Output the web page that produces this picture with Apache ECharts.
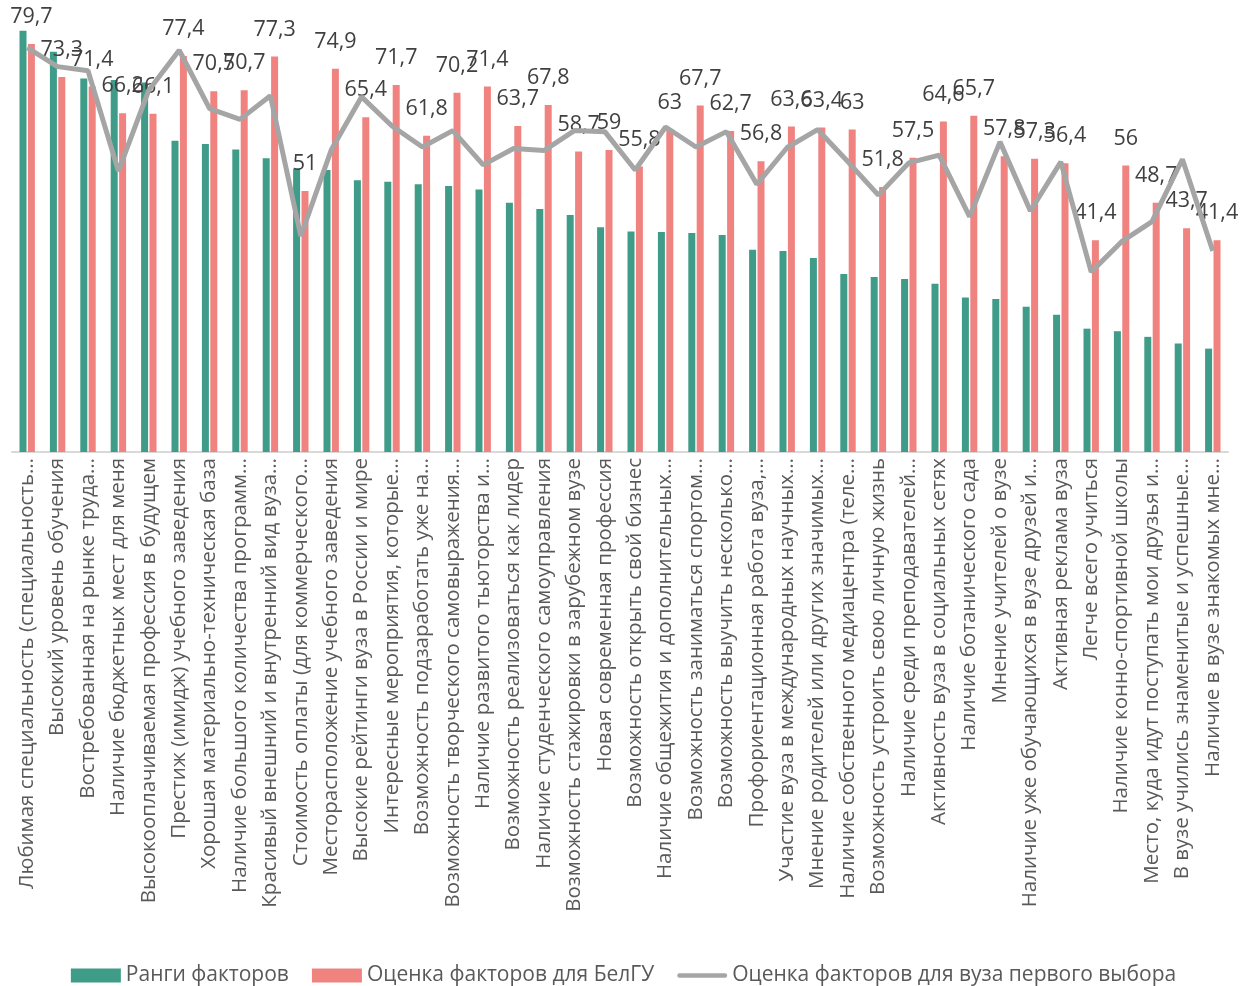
<!DOCTYPE html>
<html>
<head>
<meta charset="utf-8">
<script src="https://cdn.jsdelivr.net/npm/echarts@6/dist/echarts.min.js"></script>
<style>
html,body{margin:0;padding:0;background:#fff;}
#chart{width:1247px;height:986px;}
</style>
</head>
<body>
<div id="chart"></div>
<script>
const categories = [
  "Любимая специальность (специальность…",
  "Высокий уровень обучения",
  "Востребованная на рынке труда…",
  "Наличие бюджетных мест для меня",
  "Высокооплачиваемая профессия в будущем",
  "Престиж (имидж) учебного заведения",
  "Хорошая материально-техническая база",
  "Наличие большого количества программ…",
  "Красивый внешний и внутренний вид вуза…",
  "Стоимость оплаты (для коммерческого…",
  "Месторасположение учебного заведения",
  "Высокие рейтинги вуза в России и мире",
  "Интересные мероприятия, которые…",
  "Возможность подзаработать уже на…",
  "Возможность творческого самовыражения…",
  "Наличие развитого тьюторства и…",
  "Возможность реализоваться как лидер",
  "Наличие студенческого самоуправления",
  "Возможность стажировки в зарубежном вузе",
  "Новая современная профессия",
  "Возможность открыть свой бизнес",
  "Наличие общежития и дополнительных…",
  "Возможность заниматься спортом…",
  "Возможность выучить несколько…",
  "Профориентационная работа вуза,…",
  "Участие вуза в международных научных…",
  "Мнение родителей или других значимых…",
  "Наличие собственного медиацентра (теле…",
  "Возможность устроить свою личную жизнь",
  "Наличие среди преподавателей…",
  "Активность вуза в социальных сетях",
  "Наличие ботанического сада",
  "Мнение учителей о вузе",
  "Наличие уже обучающихся в вузе друзей и…",
  "Активная реклама вуза",
  "Легче всего учиться",
  "Наличие конно-спортивной школы",
  "Место, куда идут поступать мои друзья и…",
  "В вузе учились знаменитые и успешные…",
  "Наличие в вузе знакомых мне…"
];

const rankValues = [
  82.3, 78.2, 73.0, 72.7, 72.2, 60.8, 60.2, 59.1, 57.4, 55.4,
  55.1, 53.1, 52.8, 52.3, 52.0, 51.3, 48.7, 47.5, 46.3, 43.9,
  43.1, 43.0, 42.8, 42.4, 39.5, 39.3, 37.9, 34.8, 34.2, 33.8,
  32.9, 30.2, 29.9, 28.4, 26.8, 24.1, 23.6, 22.5, 21.2, 20.2
];

const belguValues = [
  79.7, 73.3, 71.4, 66.2, 66.1, 77.4, 70.5, 70.7, 77.3, 51,
  74.9, 65.4, 71.7, 61.8, 70.2, 71.4, 63.7, 67.8, 58.7, 59,
  55.8, 63, 67.7, 62.7, 56.8, 63.6, 63.4, 63, 51.8, 57.5,
  64.6, 65.7, 57.8, 57.3, 56.4, 41.4, 56, 48.7, 43.7, 41.4
];

const firstChoiceValues = [
  79.0, 75.3, 74.5, 54.9, 70.7, 78.5, 67.1, 65.0, 69.6, 42.2,
  59.0, 69.4, 63.7, 59.6, 62.8, 56.1, 59.3, 58.9, 62.8, 62.6,
  55.1, 63.5, 59.6, 62.6, 52.3, 59.5, 63.0, 56.7, 50.2, 56.5,
  58.0, 46.0, 60.6, 47.1, 56.7, 35.2, 41.1, 45.0, 57.2, 39.3
];

const seriesNames = ["Ранги факторов", "Оценка факторов для БелГУ", "Оценка факторов для вуза первого выбора"];

const FONT = "'Open Sans', 'Noto Sans', sans-serif";
const lineIcon = 'path://M0,0 L0.01,0 M2.5,4.5 L52.5,4.5 A2.5,2.5 0 0 1 52.5,9.5 L2.5,9.5 A2.5,2.5 0 0 1 2.5,4.5 Z M55,14 L55.01,14';
const chart = echarts.init(document.getElementById('chart'), null, {renderer: 'canvas'});
chart.setOption({
  animation: false,
  textStyle: {fontFamily: FONT},
  grid: {left: 12, right: 19, top: 17, bottom: 534, containLabel: false},
  legend: {
    top: 960,
    left: 'center',
    itemWidth: 50,
    itemHeight: 14,
    itemGap: 23,
    textStyle: {fontFamily: FONT, fontSize: 21, color: '#595959'},
    data: [
      {name: seriesNames[0], icon: 'rect'},
      {name: seriesNames[1], icon: 'rect'},
      {name: seriesNames[2], icon: lineIcon}
    ]
  },
  xAxis: {
    type: 'category',
    data: categories,
    axisLine: {lineStyle: {color: '#D9D9D9', width: 2}},
    axisTick: {show: false},
    axisLabel: {interval: 0, rotate: 90, fontSize: 20.5, color: '#595959', margin: 6, fontFamily: FONT}
  },
  yAxis: {
    type: 'value', min: 0, max: 85,
    show: false,
    splitLine: {show: false}
  },
  series: [
    {
      name: seriesNames[0], type: 'bar', data: rankValues,
      barWidth: 7, barGap: '20%',
      itemStyle: {color: '#3E9C88'}
    },
    {
      name: seriesNames[1], type: 'bar', data: belguValues,
      barWidth: 7,
      itemStyle: {color: '#F08380'},
      label: {
        show: true, position: 'top', distance: 16,
        fontSize: 21.5, color: '#404040', fontFamily: FONT,
        formatter: p => String(p.value).replace('.', ',')
      }
    },
    {
      name: seriesNames[2], type: 'line', data: firstChoiceValues,
      symbol: 'none', showSymbol: false, z: 5,
      lineStyle: {color: '#A5A5A5', width: 5},
      itemStyle: {color: '#A5A5A5'}
    }
  ]
});
</script>
</body>
</html>
